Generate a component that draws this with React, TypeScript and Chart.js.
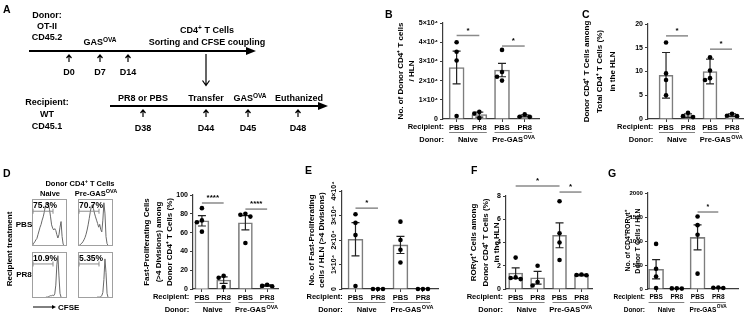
import React, { useEffect, useRef } from 'react';
import { Chart, registerables } from 'chart.js';

Chart.register(...registerables);

const FONT = '"Liberation Sans", Arial, Helvetica, sans-serif';

// ---------------- categories ----------------
const recipientLabels = ['PBS', 'PR8', 'PBS', 'PR8'];
const donorLabels = ['Naive', 'Pre-GAS'];
const donorSuperscripts = ['', 'OVA'];

// ---------------- panel B ----------------
const bMeans = [26800, 2300, 25500, 1600];
const bErrors = [8500, 1300, 3500, 500];
const bPoints = [[40000, 35000, 30500, 1600], [3700, 2900, 500], [36000, 24500, 22000, 20000], [2400, 1200, 1100]];
const bYTicks = [0, 10000, 20000, 30000, 40000, 50000];
const bYTickLabels = ['0', '1×10⁴', '2×10⁴', '3×10⁴', '4×10⁴', '5×10⁴'];
const bSig = [[0, 1, '*', 43500], [2, 3, '*', 38000]];
const bTitle = ['No. of Donor CD4⁺ T cells', '/ HLN'];

// ---------------- panel C ----------------
const cMeans = [9.2, 0.7, 10.0, 0.8];
const cErrors = [4.8, 0.4, 2.6, 0.3];
const cPoints = [[16.1, 9.6, 8.2, 5.0], [1.3, 0.6, 0.4], [13.0, 10.2, 8.6, 8.2], [1.1, 0.7, 0.6]];
const cYTicks = [0, 5, 10, 15, 20];
const cYTickLabels = ['0', '5', '10', '15', '20'];
const cSig = [[0, 1, '*', 17.5], [2, 3, '*', 14.7]];
const cTitle = ['Donor CD4⁺ T Cells among', 'Total CD4⁺ T Cells (%)', 'in the HLN'];

// ---------------- panel D (bars) ----------------
const dMeans = [72.5, 9.5, 70.5, 3.7];
const dErrors = [5.5, 3.5, 7.5, 0.7];
const dPoints = [[86, 73, 71, 61], [14, 12, 2], [80, 79, 77, 49], [4.6, 3.3, 3.0]];
const dYTicks = [0, 20, 40, 60, 80, 100];
const dYTickLabels = ['0', '20', '40', '60', '80', '100'];
const dSig = [[0, 1, '****', 91.5], [2, 3, '****', 85]];
const dTitle = ['Fast-Proliferating Cells', '(>4 Divisions) among', 'Donor CD4⁺ T Cells (%)'];

// ---------------- panel D (CFSE histograms) ----------------
const histBins = [2, 5, 8, 11, 14, 17, 20, 23, 26, 29, 32, 35, 38, 41, 44, 47, 50, 53, 56, 59, 62, 65, 68, 71, 74, 77, 80, 83, 86, 89, 92, 95];
const histNaivePBS = [2, 6, 9, 13, 16, 24, 32, 40, 46, 55, 62, 72, 84, 90, 93, 89, 78, 62, 45, 38, 34, 37, 33, 24, 17, 24, 40, 52, 20, 4, 1, 0];
const histPrePBS = [1, 2, 4, 6, 9, 13, 18, 25, 34, 45, 58, 72, 84, 88, 80, 70, 62, 55, 48, 40, 46, 35, 30, 55, 92, 70, 20, 5, 1, 0, 0, 0];
const histNaivePR8 = [0, 0, 0, 0, 0, 1, 1, 1, 1, 1, 1, 1, 1, 2, 2, 3, 4, 5, 5, 6, 5, 9, 28, 72, 92, 48, 10, 2, 0, 0, 0, 0];
const histPrePR8 = [0, 0, 0, 0, 0, 0, 0, 0, 0, 0, 0, 0, 0, 1, 1, 1, 1, 1, 2, 2, 2, 3, 5, 12, 40, 85, 55, 10, 1, 0, 0, 0];
const gateLabels = ['75.3%', '70.7%', '10.9%', '5.35%'];
const gateRange = [3, 60];

// ---------------- panel E ----------------
const eMeans = [20300, 0, 18000, 0];
const eErrors = [6800, 0, 3500, 0];
const ePoints = [[30500, 27000, 22000, 1200], [0, 0, 0], [27500, 20000, 16000, 10800], [0, 0, 0]];
const eYTicks = [0, 10000, 20000, 30000, 40000];
const eYTickLabels = ['0', '1×10⁴', '2×10⁴', '3×10⁴', '4×10⁴'];
const eSig = [[0, 1, '*', 33000]];
const eTitle = ['No. of Fast-Proliferating', 'cells / HLN (>4 Divisions)'];

// ---------------- panel F ----------------
const fMeans = [1.37, 0.97, 4.62, 1.2];
const fErrors = [0.45, 0.55, 1.07, 0.05];
const fPoints = [[2.7, 1.0, 0.95, 0.85], [2.0, 0.6, 0.3], [7.55, 4.8, 4.0, 2.5], [1.25, 1.2, 1.18]];
const fYTicks = [0, 2, 4, 6, 8];
const fYTickLabels = ['0', '2', '4', '6', '8'];
const fSig = [[0, 2, '*', 8.86], [2, 3, '*', 8.34]];
const fTitle = ['RORγt⁺ Cells among', 'Donor CD4⁺ T Cells (%)', 'in the HLN'];

// ---------------- panel G ----------------
const gMeans = [410, 10, 1075, 25];
const gErrors = [200, 5, 260, 5];
const gPoints = [[940, 420, 260, 20], [15, 12, 8], [1510, 1330, 1130, 320], [30, 25, 20]];
const gYTicks = [0, 500, 1000, 1500, 2000];
const gYTickLabels = ['0', '500', '1000', '1500', '2000'];
const gSig = [[2, 3, '*', 1604]];
const gTitle = ['No. of CD4⁺RORγt⁺', 'Donor T Cells / HLN'];

// ---------------- layout (pixel frames) ----------------
const barPanels = [
  { means: bMeans, errors: bErrors, points: bPoints, yTicks: bYTicks, yTickLabels: bYTickLabels, sig: bSig, title: bTitle,
    frame: { canvasL: 392, axisX: 443, topY: 23, baseY: 119, rightX: 539, xMin: -0.6, xMax: 3.63, titleX: 401, titleLH: 11, barW: 15, fs: 1, rotateTicks: false } },
  { means: cMeans, errors: cErrors, points: cPoints, yTicks: cYTicks, yTickLabels: cYTickLabels, sig: cSig, title: cTitle,
    frame: { canvasL: 579, axisX: 648, topY: 24, baseY: 119, rightX: 743, xMin: -0.82, xMax: 3.5, titleX: 587, titleLH: 13, barW: 14, fs: 1, rotateTicks: false } },
  { means: dMeans, errors: dErrors, points: dPoints, yTicks: dYTicks, yTickLabels: dYTickLabels, sig: dSig, title: dTitle,
    frame: { canvasL: 139, axisX: 193, topY: 195, baseY: 289, rightX: 278, xMin: -0.41, xMax: 3.5, titleX: 147, titleLH: 11.5, barW: 14, fs: 1, rotateTicks: false } },
  { means: eMeans, errors: eErrors, points: ePoints, yTicks: eYTicks, yTickLabels: eYTickLabels, sig: eSig, title: eTitle,
    frame: { canvasL: 302, axisX: 342, topY: 191, baseY: 289, rightX: 438, xMin: -0.6, xMax: 3.67, titleX: 312, titleLH: 10, barW: 15, fs: 1, rotateTicks: true } },
  { means: fMeans, errors: fErrors, points: fPoints, yTicks: fYTicks, yTickLabels: fYTickLabels, sig: fSig, title: fTitle,
    frame: { canvasL: 462, axisX: 506, topY: 196, baseY: 289, rightX: 592, xMin: -0.44, xMax: 3.48, titleX: 474, titleLH: 11.5, barW: 14, fs: 1, rotateTicks: false } },
  { means: gMeans, errors: gErrors, points: gPoints, yTicks: gYTicks, yTickLabels: gYTickLabels, sig: gSig, title: gTitle,
    frame: { canvasL: 612, axisX: 648, topY: 193, baseY: 289, rightX: 738, xMin: -0.39, xMax: 3.95, titleX: 628, titleLH: 10, barW: 15, fs: 0.87, rotateTicks: false } },
];

const histPanels = [
  { counts: histNaivePBS, label: gateLabels[0], box: { l: 32, t: 199, w: 35, h: 47 } },
  { counts: histPrePBS, label: gateLabels[1], box: { l: 78, t: 199, w: 35, h: 47 } },
  { counts: histNaivePR8, label: gateLabels[2], box: { l: 32, t: 252, w: 35, h: 46 } },
  { counts: histPrePR8, label: gateLabels[3], box: { l: 78, t: 252, w: 35, h: 46 } },
];

function canvasRect(f: any) {
  const T = Math.max(0, f.topY - 30);
  const B = Math.min(315, f.baseY + 26);
  const R = Math.min(749, f.rightX + 8);
  return { L: f.canvasL, T, W: R - f.canvasL, H: B - T, R, B };
}

function extrasPlugin(p: any) {
  const f = p.frame;
  return {
    id: 'extras',
    afterDatasetsDraw(chart: any) {
      const { ctx } = chart;
      const x = chart.scales.x;
      const y = chart.scales.y;
      const fs = f.fs;
      ctx.save();
      // error bars
      ctx.strokeStyle = '#222';
      ctx.lineWidth = 1.2;
      p.means.forEach((m: number, i: number) => {
        const e = p.errors[i];
        if (!e) return;
        const cx = x.getPixelForValue(i);
        const yt = y.getPixelForValue(m + e);
        const yb = y.getPixelForValue(Math.max(0, m - e));
        const cap = 4;
        ctx.beginPath();
        ctx.moveTo(cx, yt); ctx.lineTo(cx, yb);
        ctx.moveTo(cx - cap, yt); ctx.lineTo(cx + cap, yt);
        ctx.moveTo(cx - cap, yb); ctx.lineTo(cx + cap, yb);
        ctx.stroke();
      });
      // points (beeswarm)
      const r = 2.3;
      const d = 2 * r + 0.4;
      ctx.fillStyle = '#000';
      p.points.forEach((arr: number[], i: number) => {
        const cx = x.getPixelForValue(i);
        const placed: { x: number; y: number }[] = [];
        [...arr].sort((a, b) => b - a).forEach((v) => {
          const py = y.getPixelForValue(v);
          const offs = [0, -d, d, -2 * d, 2 * d, -3 * d, 3 * d];
          let px = cx;
          for (const o of offs) {
            const tx = cx + o;
            if (placed.every((q) => Math.hypot(q.x - tx, q.y - py) >= d)) { px = tx; break; }
          }
          placed.push({ x: px, y: py });
          ctx.beginPath();
          ctx.arc(px, py, r, 0, Math.PI * 2);
          ctx.fill();
        });
      });
      // significance bars
      p.sig.forEach((s: any[]) => {
        const x0 = x.getPixelForValue(s[0]);
        const x1 = x.getPixelForValue(s[1]);
        const py = y.getPixelForValue(s[3]);
        ctx.strokeStyle = '#8a8a8a';
        ctx.lineWidth = 1.5;
        ctx.beginPath();
        ctx.moveTo(x0, py); ctx.lineTo(x1, py);
        ctx.stroke();
        ctx.fillStyle = '#000';
        ctx.font = `bold ${8 * fs}px ${FONT}`;
        ctx.textAlign = 'center';
        ctx.textBaseline = 'bottom';
        ctx.fillText(s[2], (x0 + x1) / 2, py - 1);
      });
      // group labels below x axis
      const base = y.getPixelForValue(0);
      ctx.font = `bold ${7.5 * fs}px ${FONT}`;
      const firstW = ctx.measureText(recipientLabels[0]).width;
      const labelRight = x.getPixelForValue(0) - firstW / 2 - 5 * fs;
      ctx.fillStyle = '#000';
      ctx.textAlign = 'right';
      ctx.textBaseline = 'middle';
      ctx.fillText('Recipient:', labelRight, base + 8);
      ctx.fillText('Donor:', labelRight, base + 21);
      ctx.strokeStyle = '#808080';
      ctx.lineWidth = 1;
      donorLabels.forEach((lab, g) => {
        const a = x.getPixelForValue(g * 2) - f.barW / 2;
        const b = x.getPixelForValue(g * 2 + 1) + f.barW / 2;
        ctx.beginPath();
        ctx.moveTo(a, base + 13.5); ctx.lineTo(b, base + 13.5);
        ctx.stroke();
        const mid = (x.getPixelForValue(g * 2) + x.getPixelForValue(g * 2 + 1)) / 2;
        ctx.font = `bold ${7.5 * fs}px ${FONT}`;
        const w1 = ctx.measureText(lab).width;
        const sup = donorSuperscripts[g];
        ctx.font = `bold ${5.5 * fs}px ${FONT}`;
        const w2 = sup ? ctx.measureText(sup).width : 0;
        const start = mid - (w1 + w2) / 2;
        ctx.textAlign = 'left';
        ctx.font = `bold ${7.5 * fs}px ${FONT}`;
        ctx.fillText(lab, start, base + 21);
        if (sup) {
          ctx.font = `bold ${5.5 * fs}px ${FONT}`;
          ctx.fillText(sup, start + w1 + 0.5, base + 18);
        }
      });
      // rotated y tick labels
      if (f.rotateTicks) {
        const ax = chart.chartArea.left;
        ctx.fillStyle = '#000';
        ctx.font = `bold ${7 * fs}px ${FONT}`;
        ctx.textAlign = 'center';
        ctx.textBaseline = 'middle';
        p.yTicks.forEach((v: number, i: number) => {
          const py = y.getPixelForValue(v);
          ctx.save();
          ctx.translate(ax - 7.5, py);
          ctx.rotate(-Math.PI / 2);
          ctx.fillText(p.yTickLabels[i], 0, 0);
          ctx.restore();
        });
      }
      ctx.restore();
    },
  };
}

function barConfig(p: any) {
  const f = p.frame;
  const rc = canvasRect(f);
  const fs = f.fs;
  const axisCol = '#3c3c3c';
  const tickFont = { family: FONT, size: 7 * fs, weight: 'bold' };
  return {
    type: 'bar',
    data: {
      datasets: [{
        data: p.means.map((m: number, i: number) => ({ x: i, y: m })),
        backgroundColor: '#ffffff',
        borderColor: '#7d7d7d',
        borderWidth: 1.6,
        barThickness: f.barW,
      }],
    },
    options: {
      responsive: false,
      animation: false,
      devicePixelRatio: 1,
      events: [],
      layout: { padding: { left: 0, top: f.topY - rc.T, right: rc.R - f.rightX, bottom: 0 } },
      plugins: { legend: { display: false }, tooltip: { enabled: false }, title: { display: false } },
      scales: {
        x: {
          type: 'linear',
          min: f.xMin,
          max: f.xMax,
          offset: false,
          afterBuildTicks: (s: any) => { s.ticks = recipientLabels.map((_, i) => ({ value: i })); },
          afterFit: (s: any) => { s.height = rc.B - f.baseY; },
          ticks: {
            autoSkip: false, maxRotation: 0, minRotation: 0, padding: 1, color: '#000',
            font: { family: FONT, size: 7.5 * fs, weight: 'bold' },
            callback: (v: number) => recipientLabels[Math.round(v)] ?? '',
          },
          grid: { display: true, drawOnChartArea: false, drawTicks: true, tickLength: 3, color: axisCol, lineWidth: 1, offset: false },
          border: { display: true, color: axisCol, width: 1.2 },
        },
        y: {
          type: 'linear',
          min: 0,
          max: p.yTicks[p.yTicks.length - 1],
          afterBuildTicks: (s: any) => { s.ticks = p.yTicks.map((v: number) => ({ value: v })); },
          afterFit: (s: any) => { s.width = f.axisX - f.canvasL; },
          ticks: {
            display: !f.rotateTicks, padding: 2, color: '#000', font: tickFont,
            callback: (v: number) => p.yTickLabels[p.yTicks.indexOf(v)] ?? '',
          },
          grid: { display: true, drawOnChartArea: false, drawTicks: true, tickLength: 3, color: axisCol, lineWidth: 1 },
          border: { display: true, color: axisCol, width: 1.2 },
          title: {
            display: true,
            text: p.title,
            color: '#000',
            font: { family: FONT, size: 8 * fs, weight: 'bold', lineHeight: f.titleLH + 'px' },
            padding: { top: Math.max(0, f.titleX - f.canvasL - f.titleLH / 2), bottom: 0 },
          },
        },
      },
    },
    plugins: [extrasPlugin(p)],
  };
}

function histPlugin(h: any) {
  return {
    id: 'histExtras',
    afterDraw(chart: any) {
      const { ctx, chartArea: a } = chart;
      const x = chart.scales.x;
      const y = chart.scales.y;
      ctx.save();
      ctx.strokeStyle = '#a0a0a0';
      ctx.lineWidth = 1;
      ctx.strokeRect(a.left + 0.5, a.top + 0.5, a.right - a.left - 1, a.bottom - a.top - 1);
      // gate
      const gx0 = x.getPixelForValue(gateRange[0]);
      const gx1 = x.getPixelForValue(gateRange[1]);
      const gy = y.getPixelForValue(74);
      ctx.strokeStyle = '#8c8c8c';
      ctx.beginPath();
      ctx.moveTo(gx0, gy); ctx.lineTo(gx1, gy);
      ctx.moveTo(gx0, gy - 2.5); ctx.lineTo(gx0, gy + 2.5);
      ctx.moveTo(gx1, gy - 2.5); ctx.lineTo(gx1, gy + 2.5);
      ctx.stroke();
      ctx.fillStyle = '#000';
      ctx.font = `bold 8.5px ${FONT}`;
      ctx.textAlign = 'left';
      ctx.textBaseline = 'middle';
      ctx.fillText(h.label, x.getPixelForValue(3), y.getPixelForValue(86));
      ctx.restore();
    },
  };
}

function histConfig(h: any) {
  return {
    type: 'line',
    data: {
      datasets: [{
        data: histBins.map((b, i) => ({ x: b, y: h.counts[i] })),
        borderColor: '#686868',
        borderWidth: 1,
        pointRadius: 0,
        tension: 0,
        fill: false,
      }],
    },
    options: {
      responsive: false,
      animation: false,
      devicePixelRatio: 1,
      events: [],
      layout: { padding: 0 },
      plugins: { legend: { display: false }, tooltip: { enabled: false } },
      scales: {
        x: { type: 'linear', min: 0, max: 100, display: false },
        y: { type: 'linear', min: 0, max: 100, display: false },
      },
    },
    plugins: [histPlugin(h)],
  };
}

const txt = { fontFamily: FONT, fontWeight: 'bold' as const };

function T({ x, y, s = 9, a = 'middle', children }: any) {
  return (
    <text x={x} y={y} fontSize={s} textAnchor={a} dominantBaseline="central" style={txt}>
      {children}
    </text>
  );
}

function UpArrow({ x, y0, y1 }: any) {
  return <path d={`M${x} ${y1} L${x} ${y0 + 0.5} M${x - 2.5} ${y0 + 3} L${x} ${y0} L${x + 2.5} ${y0 + 3}`} stroke="#000" strokeWidth={1.2} fill="none" />;
}

export default function App() {
  const barRefs = useRef<(HTMLCanvasElement | null)[]>([]);
  const histRefs = useRef<(HTMLCanvasElement | null)[]>([]);

  useEffect(() => {
    const charts: Chart[] = [];
    barPanels.forEach((p, i) => {
      const c = barRefs.current[i];
      if (c) charts.push(new Chart(c, barConfig(p) as any));
    });
    histPanels.forEach((h, i) => {
      const c = histRefs.current[i];
      if (c) charts.push(new Chart(c, histConfig(h) as any));
    });
    return () => charts.forEach((c) => c.destroy());
  }, []);

  return (
    <div style={{ position: 'absolute', left: 0, top: 0, width: 749, height: 315, background: '#fff', overflow: 'hidden' }}>
      {barPanels.map((p, i) => {
        const rc = canvasRect(p.frame);
        return (
          <canvas
            key={'b' + i}
            ref={(el) => { barRefs.current[i] = el; }}
            width={rc.W}
            height={rc.H}
            style={{ position: 'absolute', left: rc.L, top: rc.T, width: rc.W, height: rc.H }}
          />
        );
      })}
      {histPanels.map((h, i) => (
        <canvas
          key={'h' + i}
          ref={(el) => { histRefs.current[i] = el; }}
          width={h.box.w}
          height={h.box.h}
          style={{ position: 'absolute', left: h.box.l, top: h.box.t, width: h.box.w, height: h.box.h }}
        />
      ))}
      <svg width={749} height={315} style={{ position: 'absolute', left: 0, top: 0, pointerEvents: 'none' }}>
        {/* panel letters */}
        <text x={3} y={13} fontSize={10.5} style={txt}>A</text>
        <text x={385} y={18} fontSize={10.5} style={txt}>B</text>
        <text x={582} y={18} fontSize={10.5} style={txt}>C</text>
        <text x={3} y={177} fontSize={10.5} style={txt}>D</text>
        <text x={305} y={174} fontSize={10.5} style={txt}>E</text>
        <text x={471} y={174} fontSize={10.5} style={txt}>F</text>
        <text x={608} y={177} fontSize={10.5} style={txt}>G</text>

        {/* panel A schematic */}
        <T x={47} y={15}>Donor:</T>
        <T x={47} y={26}>OT-II</T>
        <T x={47} y={37}>CD45.2</T>
        <T x={100} y={42}>GAS<tspan dy={-3} fontSize={6.5}>OVA</tspan></T>
        <T x={207} y={30}>CD4<tspan dy={-3} fontSize={6.5}>+</tspan><tspan dy={3}> T Cells</tspan></T>
        <T x={207} y={42}>Sorting and CFSE coupling</T>
        <line x1={29} y1={51} x2={249} y2={51} stroke="#000" strokeWidth={2} />
        <polygon points="246,47 256,51 246,55" fill="#000" />
        <UpArrow x={69} y0={55} y1={62} />
        <UpArrow x={100} y0={55} y1={62} />
        <UpArrow x={128} y0={55} y1={62} />
        <T x={69} y={72}>D0</T>
        <T x={100} y={72}>D7</T>
        <T x={128} y={72}>D14</T>
        <path d="M206 54 L206 85 M202.5 80.5 L206 85.5 L209.5 80.5" stroke="#000" strokeWidth={1.2} fill="none" />
        <T x={47} y={102}>Recipient:</T>
        <T x={47} y={114}>WT</T>
        <T x={47} y={126}>CD45.1</T>
        <T x={143} y={98}>PR8 or PBS</T>
        <T x={206} y={98}>Transfer</T>
        <T x={250} y={98}>GAS<tspan dy={-3} fontSize={6.5}>OVA</tspan></T>
        <T x={299} y={98}>Euthanized</T>
        <line x1={110} y1={106} x2={320} y2={106} stroke="#000" strokeWidth={2} />
        <polygon points="318,102 328,106 318,110" fill="#000" />
        <UpArrow x={143} y0={110} y1={117} />
        <UpArrow x={206} y0={110} y1={117} />
        <UpArrow x={248} y0={110} y1={117} />
        <UpArrow x={298} y0={110} y1={117} />
        <T x={143} y={128}>D38</T>
        <T x={206} y={128}>D44</T>
        <T x={248} y={128}>D45</T>
        <T x={298} y={128}>D48</T>

        {/* panel D flow labels */}
        <T x={80} y={183} s={7.5}>Donor CD4<tspan dy={-2.5} fontSize={5.5}>+</tspan><tspan dy={2.5}> T Cells</tspan></T>
        <T x={50} y={193} s={7.5}>Naive</T>
        <T x={96} y={193} s={7.5}>Pre-GAS<tspan dy={-2.5} fontSize={5.5}>OVA</tspan></T>
        <T x={24} y={224} s={8}>PBS</T>
        <T x={24} y={274} s={8}>PR8</T>
        <text x={0} y={0} fontSize={8} textAnchor="middle" dominantBaseline="central" style={txt} transform="translate(9,249) rotate(-90)">Recipient treatment</text>
        <line x1={33} y1={307} x2={53} y2={307} stroke="#000" strokeWidth={1} />
        <polygon points="52,305 56,307 52,309" fill="#000" />
        <T x={58} y={307} s={8} a="start">CFSE</T>
      </svg>
    </div>
  );
}
